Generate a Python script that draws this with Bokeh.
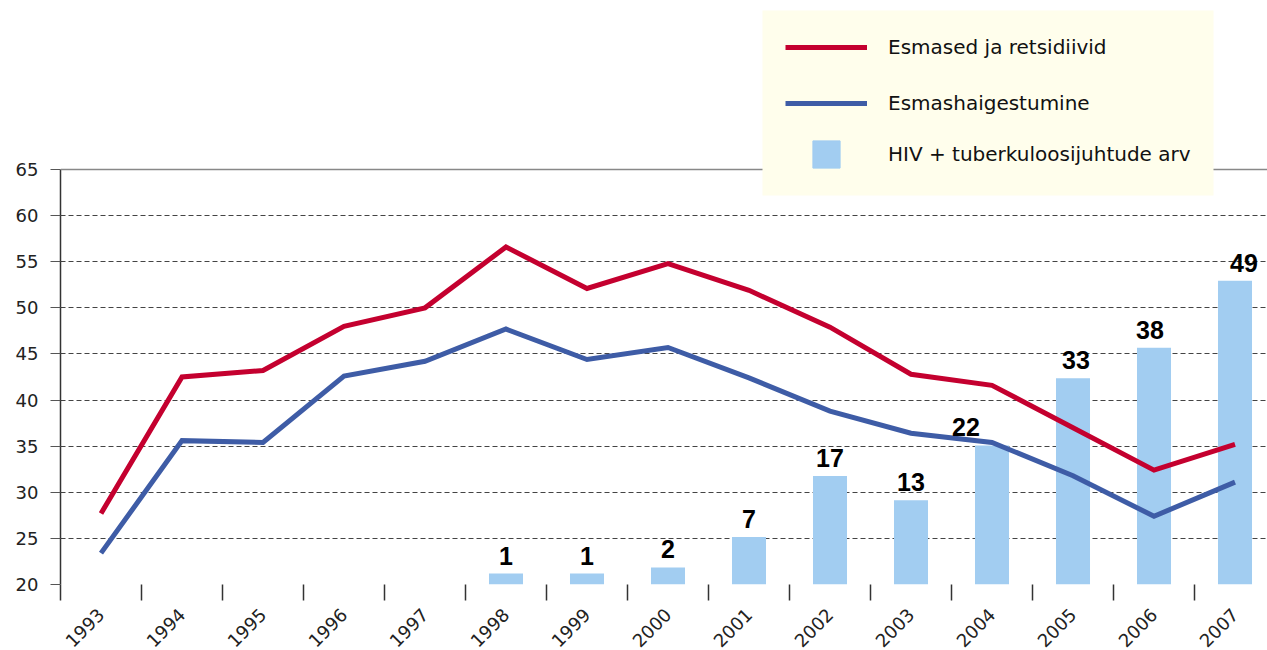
import math
from bokeh.plotting import figure
from bokeh.models import (Range1d, FixedTicker, Span, Legend, LegendItem,
                          ColumnDataSource, LabelSet, BoxAnnotation)
from bokeh.core.properties import value
from bokeh.embed import file_html
from bokeh.resources import INLINE

# ---- data ----
years = ["1993", "1994", "1995", "1996", "1997", "1998", "1999", "2000",
         "2001", "2002", "2003", "2004", "2005", "2006", "2007"]
first_and_relapse = [27.7, 42.5, 43.2, 48.0, 50.0, 56.6, 52.1, 54.8,
                     51.9, 47.9, 42.8, 41.6, 37.0, 32.4, 35.2]
new_cases = [23.4, 35.6, 35.4, 42.6, 44.2, 47.7, 44.4, 45.7,
             42.4, 38.8, 36.4, 35.4, 31.8, 27.4, 31.1]
hiv_years = ["1998", "1999", "2000", "2001", "2002", "2003", "2004",
             "2005", "2006", "2007"]
hiv_tb = [1, 1, 2, 7, 17, 13, 22, 33, 38, 49]
y_ticks = [20, 25, 30, 35, 40, 45, 50, 55, 60, 65]

# ---- styles / layout ----
RED = "#C4002F"
BLUE = "#3E5CA6"
BAR = "#A2CDF1"
CREAM = "#FFFEEC"
label_nudge = [0, 0, 0, 0, 0, 0, -26, 3, -4, 9]

FRAME_W = 1207
FRAME_H = 584
PX_PER_UNIT = 415 / 45.0            # pixels per y unit (20..65 spans 415px)
Y_MAX = 20 + FRAME_H / PX_PER_UNIT  # room above 65 for the legend
HIV_LO = -0.8                       # secondary (hidden) scale for the bars
HIV_PX = 6.1                        # pixels per case
HIV_MAX = HIV_LO + FRAME_H / HIV_PX

xpos = list(range(len(years)))
hx = [years.index(y) for y in hiv_years]

p = figure(frame_width=FRAME_W, frame_height=FRAME_H,
           output_backend="svg", toolbar_location=None,
           x_range=Range1d(-0.5, -0.5 + FRAME_W / 81.0), y_range=Range1d(20, Y_MAX),
           min_border_left=60, min_border_right=0, min_border_top=0,
           min_border_bottom=60)
p.outline_line_color = None
p.background_fill_color = "white"

p.extra_y_ranges = {"hiv": Range1d(HIV_LO, HIV_MAX)}

# gridlines
p.xgrid.visible = False
p.ygrid.ticker = FixedTicker(ticks=y_ticks[:-1])
p.ygrid.grid_line_color = "#444444"
p.ygrid.grid_line_dash = "5 3"
p.ygrid.grid_line_width = 1

top_line = Span(location=y_ticks[-1], dimension="width", line_color="#888888", line_width=1.5)
p.add_layout(top_line)

# bars
src = ColumnDataSource(dict(x=hx, top=hiv_tb, lab=[str(v) for v in hiv_tb], dx=label_nudge))
p.vbar(x="x", top="top", bottom=HIV_LO, width=0.42, source=src, y_range_name="hiv",
       fill_color=BAR, line_color=None)
labels = LabelSet(x="x", y="top", text="lab", source=src, y_range_name="hiv",
                  x_offset="dx", y_offset=9, text_align="center",
                  text_baseline="alphabetic", text_font=value("Liberation Sans"),
                  text_font_style="bold", text_font_size="25px", text_color="#000000")
p.add_layout(labels)

# lines
r_red = p.line(xpos, first_and_relapse, line_color=RED, line_width=5, line_join="miter")
r_blue = p.line(xpos, new_cases, line_color=BLUE, line_width=5, line_join="miter")
# invisible marker renderer, used only for the square legend swatch
r_sq = p.scatter(x="x", y="top", source=src, y_range_name="hiv", size=0,
                 marker="square", fill_color=BAR, line_color=BAR)

# axes
xa = p.xaxis[0]
xa.ticker = FixedTicker(ticks=xpos, minor_ticks=[i - 0.5 for i in xpos])
xa.major_label_overrides = {i: y for i, y in zip(xpos, years)}
xa.axis_line_color = None
xa.major_tick_line_color = None
xa.major_tick_out = 0
xa.major_tick_in = 0
xa.minor_tick_out = 16
xa.minor_tick_in = 0
xa.minor_tick_line_color = "#333333"
xa.minor_tick_line_width = 1.5
xa.major_label_orientation = math.pi / 4
xa.major_label_standoff = 11
xa.major_label_text_font = "DejaVu Sans"
xa.major_label_text_font_size = "18px"
xa.major_label_text_color = "#222222"

ya = p.yaxis[0]
ya.ticker = FixedTicker(ticks=y_ticks)
ya.bounds = (y_ticks[0], y_ticks[-1])
ya.axis_line_color = "#333333"
ya.axis_line_width = 1.5
ya.major_tick_out = 10
ya.major_tick_in = 0
ya.major_tick_line_color = "#555555"
ya.minor_tick_line_color = None
ya.major_label_standoff = 12
ya.major_label_text_font = "DejaVu Sans"
ya.major_label_text_font_size = "18px"
ya.major_label_text_color = "#222222"

# legend background box (screen units relative to the frame's bottom-left)
box = BoxAnnotation(left=702, right=1153, top=574, bottom=389,
                    left_units="screen", right_units="screen",
                    top_units="screen", bottom_units="screen",
                    fill_color=CREAM, fill_alpha=1.0, line_color=None)
p.add_layout(box)

common = dict(orientation="vertical", glyph_width=82, spacing=0, padding=0, margin=0,
              label_standoff=21, background_fill_alpha=0, border_line_color=None,
              label_text_font="DejaVu Sans", label_text_font_size="20px",
              label_text_color="#111111")
legend_lines = Legend(items=[
    LegendItem(label="Esmased ja retsidiivid", renderers=[r_red]),
    LegendItem(label="Esmashaigestumine", renderers=[r_blue]),
], location=(725, 453), glyph_height=56, **common)
legend_bar = Legend(items=[
    LegendItem(label="HIV + tuberkuloosijuhtude arv", renderers=[r_sq]),
], location=(725, 396), glyph_height=68, **common)
p.add_layout(legend_lines)
p.add_layout(legend_bar)

open("out.html", "w").write(file_html(p, INLINE))
